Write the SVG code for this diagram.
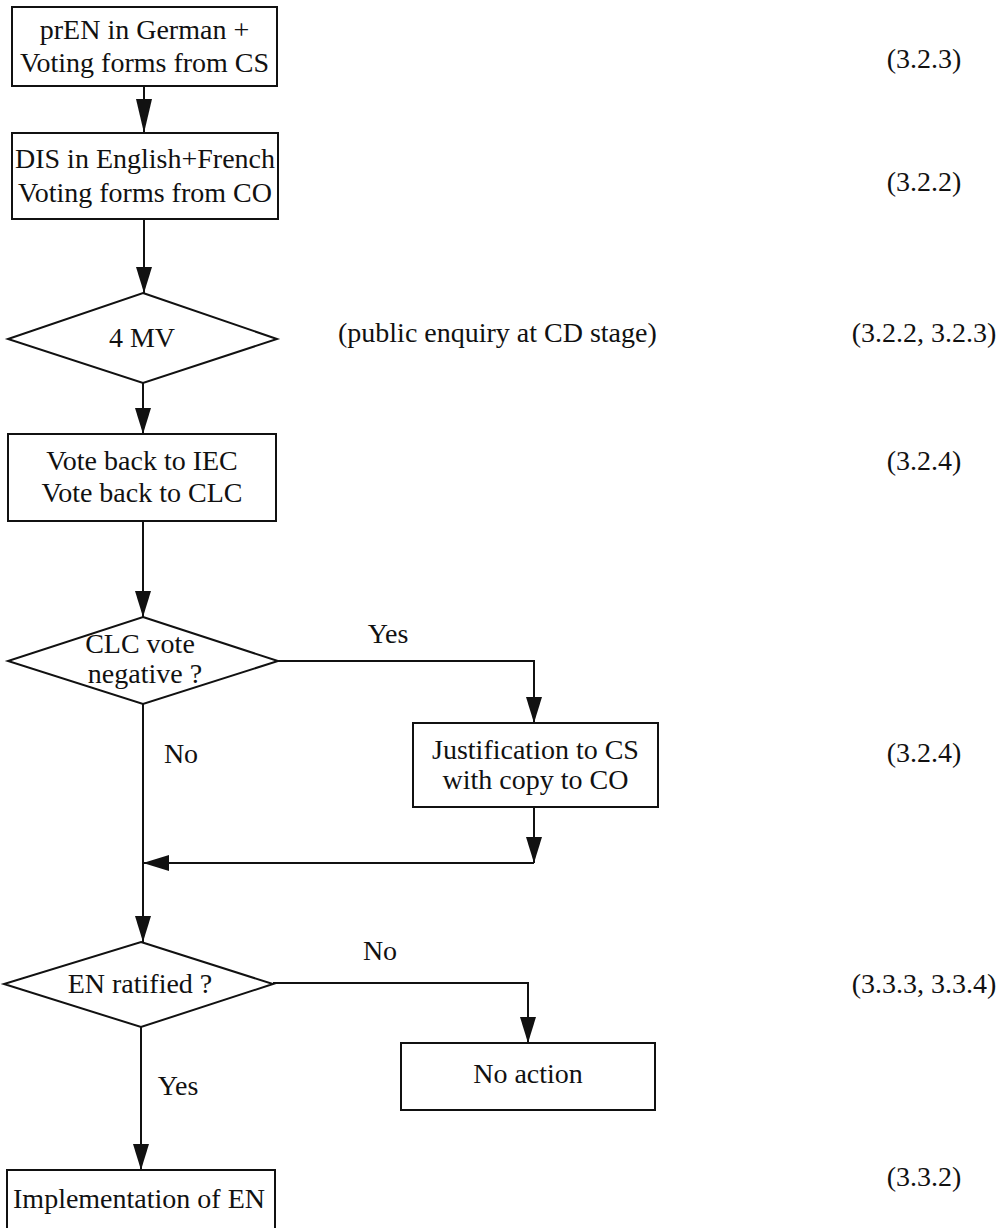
<svg xmlns="http://www.w3.org/2000/svg" width="1006" height="1228" viewBox="0 0 1006 1228">
  <style>
    .shape { fill: #ffffff; stroke: #111111; stroke-width: 2; }
    .wire { fill: none; stroke: #111111; stroke-width: 2; }
    text { font-family: "Liberation Serif", "Times New Roman", serif; font-size: 28px; fill: #111111; }
    .c { text-anchor: middle; }
  </style>
  <defs>
    <marker id="head" markerUnits="userSpaceOnUse" markerWidth="28" markerHeight="18" refX="26" refY="8" orient="auto">
      <path d="M0,0 L26,8 L0,16 Z" fill="#111111"/>
    </marker>
    <marker id="head-long" markerUnits="userSpaceOnUse" markerWidth="36" markerHeight="18" refX="34" refY="8" orient="auto">
      <path d="M0,0 L34,8 L0,16 Z" fill="#111111"/>
    </marker>
  </defs>
  <rect width="1006" height="1228" fill="#ffffff"/>

  <!-- connectors -->
  <g id="connectors">
    <path class="wire" d="M144,86 V133" marker-end="url(#head-long)"/>
    <path class="wire" d="M144,219 V293" marker-end="url(#head)"/>
    <path class="wire" d="M143,383 V434" marker-end="url(#head)"/>
    <path class="wire" d="M143,521 V617" marker-end="url(#head)"/>
    <path class="wire" d="M278,661 H534 V723" marker-end="url(#head)"/>
    <path class="wire" d="M534,807 V863" marker-end="url(#head)"/>
    <path class="wire" d="M534,863 H143" marker-end="url(#head)"/>
    <path class="wire" d="M143,704 V942" marker-end="url(#head)"/>
    <path class="wire" d="M273,983 H528 V1043" marker-end="url(#head)"/>
    <path class="wire" d="M141,1027 V1170" marker-end="url(#head)"/>
    <text x="388" y="643" class="c">Yes</text>
    <text x="181" y="763" class="c">No</text>
    <text x="380" y="960" class="c">No</text>
    <text x="178" y="1095" class="c">Yes</text>
  </g>

  <g id="n-pren">
    <rect class="shape" x="12" y="7" width="265" height="79"/>
    <text x="144.5" y="39" class="c">prEN in German +</text>
    <text x="144.5" y="72" class="c">Voting forms from CS</text>
  </g>
  <g id="n-dis">
    <rect class="shape" x="12" y="133" width="266" height="86"/>
    <text x="145" y="168" class="c">DIS in English+French</text>
    <text x="145" y="202" class="c">Voting forms from CO</text>
  </g>
  <g id="n-4mv">
    <polygon class="shape" points="143,293 277,339 143,383 8,339"/>
    <text x="142" y="347" class="c">4 MV</text>
  </g>
  <g id="n-vote">
    <rect class="shape" x="8" y="434" width="268" height="87"/>
    <text x="142" y="470" class="c">Vote back to IEC</text>
    <text x="142" y="502" class="c">Vote back to CLC</text>
  </g>
  <g id="n-clc">
    <polygon class="shape" points="143,617 278,661 143,704 8,661"/>
    <text x="140" y="653" class="c">CLC vote</text>
    <text x="145" y="683" class="c">negative ?</text>
  </g>
  <g id="n-justification">
    <rect class="shape" x="413" y="723" width="245" height="84"/>
    <text x="535.5" y="759" class="c">Justification to CS</text>
    <text x="535.5" y="789" class="c">with copy to CO</text>
  </g>
  <g id="n-ratified">
    <polygon class="shape" points="141,942 273,984 141,1027 4,984"/>
    <text x="140" y="993" class="c">EN ratified ?</text>
  </g>
  <g id="n-noaction">
    <rect class="shape" x="401" y="1043" width="254" height="67"/>
    <text x="528" y="1083" class="c">No action</text>
  </g>
  <g id="n-implementation">
    <rect class="shape" x="7" y="1170" width="268" height="80"/>
    <text x="139" y="1208" class="c">Implementation of EN</text>
  </g>

  <!-- side notes -->
  <g id="notes">
    <text x="338" y="342">(public enquiry at CD stage)</text>
    <text x="924" y="68" class="c">(3.2.3)</text>
    <text x="924" y="191" class="c">(3.2.2)</text>
    <text x="924" y="342" class="c">(3.2.2, 3.2.3)</text>
    <text x="924" y="470" class="c">(3.2.4)</text>
    <text x="924" y="762" class="c">(3.2.4)</text>
    <text x="924" y="993" class="c">(3.3.3, 3.3.4)</text>
    <text x="924" y="1186" class="c">(3.3.2)</text>
  </g>
</svg>
